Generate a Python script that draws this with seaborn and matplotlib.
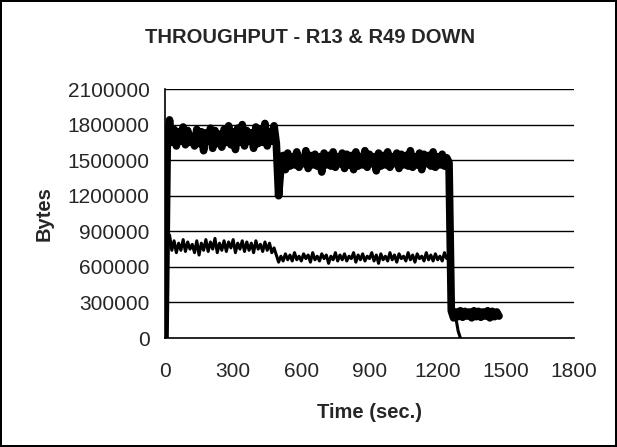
import matplotlib
matplotlib.use("Agg")
import numpy as np
import pandas as pd
import matplotlib.pyplot as plt
import seaborn as sns

# throughput samples every 10 s, values in kB
total_kb = [0, 1640, 1840, 1650, 1760, 1620, 1740, 1660, 1780, 1630, 1750, 1650, 1700, 1620, 1760, 1640,
            1740, 1580, 1730, 1660, 1770, 1600, 1750, 1640, 1720, 1610, 1760, 1650, 1790, 1630, 1740, 1590,
            1770, 1650, 1800, 1620, 1750, 1660, 1730, 1600, 1780, 1640, 1760, 1650, 1810, 1620, 1740, 1660,
            1790, 1640,
            1200, 1440, 1540, 1420, 1560, 1450, 1530, 1460, 1570, 1440, 1520, 1470, 1580, 1430, 1540, 1460,
            1550, 1450, 1530, 1400, 1560, 1460, 1540, 1450, 1570, 1440, 1530, 1470, 1560, 1430, 1550, 1460,
            1540, 1420, 1570, 1450, 1530, 1460, 1580, 1440, 1550, 1470, 1530, 1410, 1560, 1450, 1540, 1460,
            1570, 1440, 1530, 1470, 1560, 1430, 1550, 1460, 1540, 1450, 1580, 1440, 1530, 1460, 1560, 1420,
            1550, 1470, 1540, 1450, 1570, 1440, 1530, 1460, 1550, 1450, 1520, 1480,
            230, 170, 220, 180, 230, 175, 225, 185, 220, 170, 230, 180, 225, 175, 220, 185, 230, 170, 225,
            180, 220, 185]
flow_kb = [0, 760, 870, 740, 820, 720, 800, 740, 830, 730, 810, 750, 790, 720, 820, 700, 800, 740, 830, 730,
           810, 750, 840, 720, 800, 740, 820, 730, 810, 760, 830, 720, 800, 750, 820, 730, 810, 740, 800, 720,
           820, 750, 790, 730, 810, 740, 800, 720, 760, 700,
           640, 690, 650, 710, 660, 700, 650, 720, 660, 690, 650, 710, 670, 700, 640, 720, 660, 690, 650, 710,
           670, 700, 630, 690, 660, 720, 650, 700, 660, 710, 650, 690, 670, 720, 640, 700, 660, 710, 650, 690,
           670, 720, 650, 700, 630, 710, 660, 690, 650, 720, 660, 700, 640, 710, 670, 690, 650, 720, 660, 700,
           640, 710, 670, 690, 650, 720, 660, 700, 650, 710, 660, 690, 650, 720, 670, 690,
           220, 200, 170, 60, 0]
x_ticks = [0, 300, 600, 900, 1200, 1500, 1800]
y_ticks = [0, 300000, 600000, 900000, 1200000, 1500000, 1800000, 2100000]

upper = pd.DataFrame({"time": range(0, 10 * len(total_kb), 10), "bytes": np.array(total_kb) * 1000})
lower = pd.DataFrame({"time": range(0, 10 * len(flow_kb), 10), "bytes": np.array(flow_kb) * 1000})

sns.set_style("white")
plt.rcParams['font.family'] = ['Liberation Sans', 'DejaVu Sans']

fig = plt.figure(figsize=(6.17, 4.47), dpi=100)
fig.patch.set_edgecolor("black")
fig.patch.set_linewidth(1.5)
ax = fig.add_axes([0.2674, 0.2438, 0.6629, 0.557])

for y in y_ticks[1:]:
    ax.axhline(y, color="black", lw=1, zorder=0)
sns.lineplot(data=upper, x="time", y="bytes", color="black", lw=5.5, ax=ax)
sns.lineplot(data=lower, x="time", y="bytes", color="black", lw=2.2, ax=ax)

ax.set_xlim(0, 1800)
ax.set_ylim(0, 2100000)
ax.set_xticks(x_ticks)
ax.set_yticks(y_ticks)
ax.tick_params(labelsize=15, direction="out", length=5, width=1, color="black")
ax.tick_params(axis="x", pad=12)
ax.tick_params(axis="y", pad=6)
ax.ticklabel_format(style="plain", axis="y")
for s in ["top", "right"]:
    ax.spines[s].set_visible(False)
for s in ["left", "bottom"]:
    ax.spines[s].set_color("black")
    ax.spines[s].set_linewidth(1.2)

ax.set_xlabel("Time (sec.)", fontsize=14.5, fontweight="bold", labelpad=16)
ax.set_ylabel("Bytes", fontsize=14.5, fontweight="bold", labelpad=10)
fig.text(0.502, 0.917, "THROUGHPUT - R13 & R49 DOWN", ha="center", va="center", fontsize=14.5, fontweight="bold")

fig.savefig("out.png", dpi=100, edgecolor=fig.get_edgecolor())
